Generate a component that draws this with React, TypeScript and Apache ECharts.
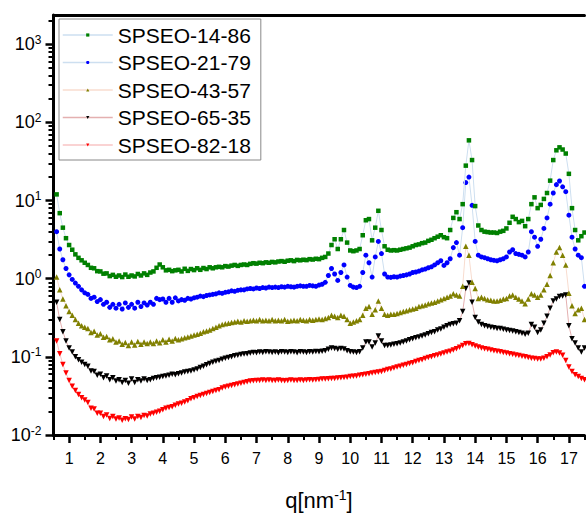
import React, { useEffect, useRef } from "react";
import * as echarts from "echarts";

// q grid: first q value and spacing (nm^-1)
const Q_START = 0.6;
const Q_STEP = 0.1;

const seriesNames = ["SPSEO-14-86", "SPSEO-21-79", "SPSEO-43-57", "SPSEO-65-35", "SPSEO-82-18"];

const green1486 = [
  12, 6.9, 4.5, 3.3, 2.7, 2.35, 2.05, 1.85, 1.72, 1.6,
  1.5, 1.38, 1.36, 1.25, 1.24, 1.16, 1.17, 1.08, 1.12, 1.06,
  1.1, 1.05, 1.13, 1.06, 1.1, 1.07, 1.15, 1.1, 1.17, 1.12,
  1.2, 1.24, 1.38, 1.52, 1.4, 1.28, 1.3, 1.25, 1.28, 1.3,
  1.24, 1.34, 1.26, 1.33, 1.29, 1.36, 1.3, 1.37, 1.33, 1.4,
  1.36, 1.4, 1.42, 1.4, 1.45, 1.43, 1.47, 1.5, 1.46, 1.5,
  1.52, 1.5, 1.55, 1.58, 1.56, 1.6, 1.58, 1.62, 1.6, 1.64,
  1.62, 1.66, 1.68, 1.65, 1.7, 1.72, 1.68, 1.74, 1.72, 1.75,
  1.73, 1.78, 1.76, 1.8, 1.78, 1.85, 1.9, 2.1, 2.7, 3.2,
  2.4, 3.2, 4.2, 2.9, 2.3, 2.25, 2.3, 2.4, 3.6, 5.6,
  5.8, 3.1, 4.5, 7.4, 4.2, 2.6, 2.35, 2.3, 2.32, 2.3,
  2.35, 2.4, 2.45, 2.5, 2.6, 2.7, 2.75, 2.85, 2.9, 3.05,
  3.15, 3.3, 3.45, 3.6, 3.4, 3.3, 4.2, 6.0, 7.1, 5.8,
  9.0, 28, 59, 33, 8.5, 4.8, 4.2, 4.0, 3.95, 3.9,
  3.9, 3.85, 4.0, 4.1, 4.4, 5.2, 6.2, 5.8, 5.3, 5.5,
  4.7, 5.8, 9.0, 11, 8.0, 8.8, 10.5, 12.5, 18, 33,
  44, 48, 45, 40, 22, 8.0, 4.2, 3.1, 3.5, 3.9,
];

const blue2179 = [
  4.0, 2.4, 1.75, 1.35, 1.12, 0.98, 0.88, 0.8, 0.72, 0.66,
  0.63, 0.56, 0.58, 0.51, 0.54, 0.47, 0.5, 0.43, 0.47, 0.42,
  0.47, 0.41, 0.49, 0.43, 0.47, 0.42, 0.5, 0.44, 0.49, 0.46,
  0.5, 0.47, 0.56, 0.54, 0.55, 0.5, 0.56, 0.5, 0.57, 0.52,
  0.54, 0.53, 0.56, 0.55, 0.57, 0.58, 0.6, 0.59, 0.61, 0.62,
  0.63, 0.64, 0.66, 0.65, 0.67, 0.68, 0.7, 0.69, 0.71, 0.72,
  0.72, 0.74, 0.75, 0.74, 0.76, 0.75, 0.77, 0.76, 0.78, 0.77,
  0.78, 0.77, 0.79, 0.78, 0.8, 0.79, 0.78, 0.8, 0.81, 0.8,
  0.8, 0.82, 0.81, 0.8, 0.83, 0.85, 0.9, 1.1, 1.35, 1.15,
  0.95, 1.2, 1.5, 1.05, 0.82, 0.78, 0.77, 0.8, 1.2, 2.0,
  1.6, 1.05, 1.9, 3.0, 2.1, 1.15, 1.05, 1.04, 1.06, 1.05,
  1.08, 1.1, 1.12, 1.15, 1.2, 1.22, 1.25, 1.3, 1.33, 1.38,
  1.42, 1.5, 1.6, 1.7, 1.48, 1.6, 1.8, 2.5, 2.9, 2.0,
  4.5, 17, 20, 8.7, 3.0, 2.0, 1.9, 1.86, 1.8, 1.75,
  1.72, 1.7, 1.75, 1.8, 1.9, 2.2, 2.35, 2.1, 2.05, 2.0,
  1.9, 2.2, 4.0, 3.4, 2.6, 3.2, 4.4, 6.0, 9.0, 12.5,
  16, 17.8, 15, 13, 6.5, 3.4, 2.4, 2.0, 1.86, 0.8,
];

const olive4357 = [
  1.05, 0.72, 0.55, 0.45, 0.38, 0.34, 0.3, 0.27, 0.25, 0.24,
  0.23, 0.205, 0.212, 0.19, 0.198, 0.178, 0.182, 0.165, 0.17, 0.155,
  0.16, 0.145, 0.153, 0.14, 0.155, 0.142, 0.157, 0.145, 0.155, 0.148,
  0.155, 0.148, 0.16, 0.152, 0.165, 0.155, 0.168, 0.16, 0.172, 0.166,
  0.17, 0.176, 0.18, 0.185, 0.19, 0.195, 0.2, 0.21, 0.215, 0.22,
  0.23, 0.24, 0.25, 0.26, 0.265, 0.27, 0.275, 0.28, 0.285, 0.28,
  0.29, 0.285, 0.29, 0.295, 0.29, 0.3, 0.29, 0.295, 0.29, 0.3,
  0.29, 0.295, 0.29, 0.3, 0.285, 0.29, 0.295, 0.29, 0.3, 0.295,
  0.29, 0.3, 0.295, 0.3, 0.305, 0.3, 0.31, 0.32, 0.34, 0.33,
  0.32, 0.34, 0.33, 0.3, 0.27, 0.28, 0.29, 0.3, 0.34, 0.42,
  0.44, 0.35, 0.4, 0.52, 0.42, 0.35, 0.34, 0.35, 0.35, 0.36,
  0.37, 0.38, 0.39, 0.4, 0.41, 0.42, 0.44, 0.45, 0.46, 0.48,
  0.49, 0.5, 0.52, 0.54, 0.56, 0.58, 0.6, 0.64, 0.62, 0.6,
  0.8, 2.6, 2.0, 0.9, 0.75, 0.56, 0.58, 0.56, 0.54, 0.53,
  0.52, 0.52, 0.53, 0.55, 0.56, 0.6, 0.62, 0.58, 0.55, 0.52,
  0.48, 0.55, 0.64, 0.62, 0.58, 0.62, 0.72, 0.85, 1.1, 1.6,
  2.2, 2.5, 2.0, 1.5, 0.65, 0.45, 0.36, 0.4, 0.42, 0.3,
];

const black6535 = [
  0.5, 0.3, 0.21, 0.16, 0.13, 0.115, 0.1, 0.092, 0.085, 0.08,
  0.076, 0.066, 0.065, 0.058, 0.06, 0.054, 0.057, 0.051, 0.054, 0.049,
  0.051, 0.047, 0.05, 0.046, 0.052, 0.047, 0.051, 0.049, 0.052, 0.05,
  0.051, 0.053, 0.054, 0.055, 0.056, 0.057, 0.058, 0.06, 0.059, 0.061,
  0.062, 0.064, 0.065, 0.066, 0.068, 0.07, 0.073, 0.076, 0.079, 0.082,
  0.085, 0.088, 0.09, 0.093, 0.096, 0.098, 0.1, 0.103, 0.105, 0.107,
  0.109, 0.11, 0.112, 0.114, 0.113, 0.115, 0.114, 0.116, 0.115, 0.114,
  0.115, 0.113, 0.116, 0.115, 0.114, 0.116, 0.115, 0.113, 0.116, 0.115,
  0.114, 0.116, 0.115, 0.117, 0.116, 0.118, 0.12, 0.125, 0.13, 0.128,
  0.125, 0.128, 0.126, 0.12, 0.116, 0.115, 0.114, 0.116, 0.13, 0.155,
  0.155, 0.134, 0.15, 0.185, 0.16, 0.14, 0.14, 0.142, 0.145, 0.147,
  0.15, 0.155, 0.16, 0.165, 0.17, 0.175, 0.18, 0.185, 0.19, 0.198,
  0.205, 0.21, 0.22, 0.228, 0.24, 0.25, 0.26, 0.265, 0.27, 0.29,
  0.38, 0.75, 0.88, 0.5, 0.32, 0.28, 0.26, 0.25, 0.245, 0.24,
  0.235, 0.23, 0.23, 0.225, 0.22, 0.218, 0.215, 0.21, 0.205, 0.2,
  0.195, 0.2, 0.26, 0.24, 0.205, 0.22, 0.27, 0.33, 0.42, 0.52,
  0.55, 0.59, 0.6, 0.62, 0.25, 0.17, 0.15, 0.13, 0.115, 0.13,
];

const red8218 = [
  0.16, 0.11, 0.08, 0.062, 0.05, 0.042, 0.037, 0.033, 0.03, 0.028,
  0.026, 0.022, 0.0215, 0.019, 0.019, 0.0172, 0.018, 0.0163, 0.0172, 0.016,
  0.0165, 0.0155, 0.0162, 0.0158, 0.017, 0.016, 0.0172, 0.0168, 0.0178, 0.0175,
  0.0185, 0.019, 0.0195, 0.0202, 0.021, 0.022, 0.0225, 0.023, 0.024, 0.025,
  0.0255, 0.0265, 0.0275, 0.029, 0.03, 0.031, 0.032, 0.033, 0.034, 0.035,
  0.036, 0.037, 0.038, 0.04, 0.041, 0.042, 0.043, 0.044, 0.045, 0.046,
  0.047, 0.048, 0.049, 0.0495, 0.05, 0.05, 0.0505, 0.05, 0.0505, 0.05,
  0.05, 0.0505, 0.05, 0.0495, 0.05, 0.0505, 0.05, 0.0498, 0.0505, 0.05,
  0.0505, 0.051, 0.0505, 0.051, 0.0515, 0.052, 0.052, 0.0525, 0.053, 0.053,
  0.0535, 0.054, 0.0545, 0.055, 0.056, 0.0565, 0.057, 0.058, 0.059, 0.06,
  0.061, 0.062, 0.063, 0.064, 0.065, 0.067, 0.069, 0.07, 0.072, 0.074,
  0.076, 0.078, 0.08, 0.082, 0.084, 0.087, 0.09, 0.092, 0.095, 0.098,
  0.1, 0.103, 0.106, 0.109, 0.112, 0.115, 0.118, 0.122, 0.127, 0.133,
  0.14, 0.147, 0.148, 0.143, 0.138, 0.134, 0.13, 0.127, 0.125, 0.122,
  0.12, 0.118, 0.116, 0.114, 0.112, 0.11, 0.108, 0.106, 0.104, 0.102,
  0.1, 0.098, 0.096, 0.095, 0.094, 0.094, 0.096, 0.1, 0.106, 0.113,
  0.115, 0.112, 0.105, 0.09, 0.074, 0.065, 0.059, 0.056, 0.053, 0.051,
];

const xMajorTicks = [1, 2, 3, 4, 5, 6, 7, 8, 9, 10, 11, 12, 13, 14, 15, 16, 17];
const xMinorTicks = [0.5, 1.5, 2.5, 3.5, 4.5, 5.5, 6.5, 7.5, 8.5, 9.5, 10.5, 11.5, 12.5, 13.5, 14.5, 15.5, 16.5, 17.5];
const yMajorTicks = [0.01, 0.1, 1, 10, 100, 1000];
const yMinorTicks = [
  0.02, 0.03, 0.04, 0.05, 0.06, 0.07, 0.08, 0.09,
  0.2, 0.3, 0.4, 0.5, 0.6, 0.7, 0.8, 0.9,
  2, 3, 4, 5, 6, 7, 8, 9,
  20, 30, 40, 50, 60, 70, 80, 90,
  200, 300, 400, 500, 600, 700, 800, 900,
  2000,
];

const FONT = "Liberation Sans, Arial, Helvetica, sans-serif";

const toPairs = (vals: number[]) =>
  vals.map((v, i) => [Number((Q_START + i * Q_STEP).toFixed(2)), v]);

export default function App() {
  const ref = useRef<HTMLDivElement>(null);
  useEffect(() => {
    if (!ref.current) return;
    const chart = echarts.init(ref.current, null, { renderer: "svg" });
    const yMin = 0.01;
    const yMax = 2371;
    const seriesDefs = [
      { data: green1486, color: "#008000", line: "#cddff0", symbol: "rect", size: 4.5, rotate: 0 },
      { data: blue2179, color: "#0000ff", line: "#cddff0", symbol: "circle", size: 5, rotate: 0 },
      { data: olive4357, color: "#808000", line: "#f8dccf", symbol: "triangle", size: 5.5, rotate: 0 },
      { data: black6535, color: "#000000", line: "#e4b0b0", symbol: "triangle", size: 5.5, rotate: 180 },
      { data: red8218, color: "#ff0000", line: "#f8c4c4", symbol: "triangle", size: 5.5, rotate: 180 },
    ];
    chart.setOption({
      animation: false,
      backgroundColor: "#ffffff",
      grid: { left: 53.5, right: 1.5, top: 15, bottom: 71, containLabel: false },
      legend: {
        orient: "vertical",
        left: 59,
        top: 19,
        padding: [5.5, 10, 4.5, 3],
        itemWidth: 50,
        itemHeight: 4,
        itemGap: 6.5,
        backgroundColor: "#ffffff",
        borderColor: "#888888",
        borderWidth: 1,
        borderRadius: 0,
        textStyle: { fontSize: 21, fontFamily: FONT, color: "#000" },
        lineStyle: { width: 1.5 },
        data: seriesNames,
      },
      xAxis: [
        {
          type: "value",
          min: 0.5,
          max: 17.5,
          position: "bottom",
          axisLine: { show: true, onZero: false, lineStyle: { color: "#000", width: 3 } },
          axisTick: { show: true, customValues: xMajorTicks, length: 8, lineStyle: { color: "#000", width: 2.5 } },
          axisLabel: { show: true, customValues: xMajorTicks, fontSize: 16, fontFamily: FONT, color: "#000", margin: 15 },
          splitLine: { show: false },
          name: "q[nm{sup|-1}]",
          nameLocation: "middle",
          nameGap: 53,
          nameTextStyle: {
            fontSize: 22,
            fontFamily: FONT,
            color: "#000",
            rich: { sup: { fontSize: 14, fontFamily: FONT, color: "#000", verticalAlign: "bottom", padding: [0, 0, 10, 0] } },
          },
        },
        {
          type: "value",
          min: 0.5,
          max: 17.5,
          position: "bottom",
          axisLine: { show: false, onZero: false },
          axisTick: { show: true, customValues: xMinorTicks, length: 5, lineStyle: { color: "#000", width: 2 } },
          axisLabel: { show: false },
          splitLine: { show: false },
        },
        {
          type: "value",
          min: 0.5,
          max: 17.5,
          position: "top",
          axisLine: { show: true, onZero: false, lineStyle: { color: "#000", width: 3 } },
          axisTick: { show: false },
          axisLabel: { show: false },
          splitLine: { show: false },
        },
      ],
      yAxis: [
        {
          type: "log",
          logBase: 10,
          min: yMin,
          max: yMax,
          position: "left",
          axisLine: { show: true, onZero: false, lineStyle: { color: "#000", width: 3 } },
          axisTick: { show: true, customValues: yMajorTicks, length: 8, lineStyle: { color: "#000", width: 2.5 } },
          axisLabel: {
            show: true,
            customValues: yMajorTicks,
            margin: 12,
            fontSize: 18,
            fontFamily: FONT,
            color: "#000",
            formatter: (v: number) => `{b|10}{sup|${Math.round(Math.log10(v))}}`,
            rich: {
              b: { fontSize: 18, fontFamily: FONT, color: "#000" },
              sup: { fontSize: 12, fontFamily: FONT, color: "#000", verticalAlign: "bottom", padding: [0, 0, 9, 0] },
            },
          },
          splitLine: { show: false },
        },
        {
          type: "log",
          logBase: 10,
          min: yMin,
          max: yMax,
          position: "left",
          axisLine: { show: false, onZero: false },
          axisTick: { show: true, customValues: yMinorTicks, length: 5, lineStyle: { color: "#000", width: 2 } },
          axisLabel: { show: false },
          splitLine: { show: false },
        },
      ],
      series: seriesDefs.map((s, i) => ({
        name: seriesNames[i],
        type: "line",
        xAxisIndex: 0,
        yAxisIndex: 0,
        data: toPairs(s.data),
        showSymbol: true,
        showAllSymbol: true,
        symbol: s.symbol,
        symbolSize: s.size,
        symbolRotate: s.rotate,
        itemStyle: { color: s.color },
        lineStyle: { color: s.line, width: 1 },
        emphasis: { disabled: true },
        z: 10 - i,
      })),
    });
    return () => chart.dispose();
  }, []);
  return (
    <div
      ref={ref}
      style={{ position: "fixed", left: 0, top: 0, width: 586, height: 516, background: "#fff" }}
    />
  );
}
